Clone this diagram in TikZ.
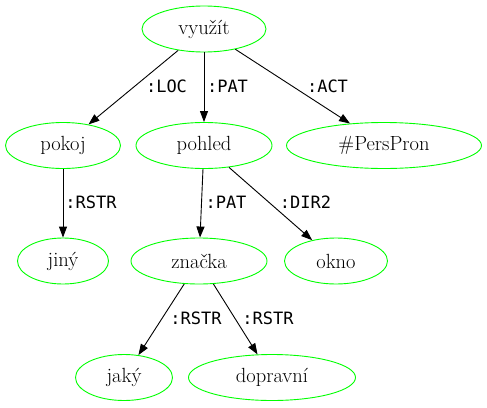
\documentclass[tikz,border=0pt]{standalone}
\usepackage{fontspec}
\newfontfamily\labfont{DejaVu Sans Mono}
\usetikzlibrary{shapes.geometric,arrows.meta}
\definecolor{nodegreen}{RGB}{0,255,0}
\tikzset{
  tnode/.style={ellipse, draw=nodegreen, line width=0.9pt, inner sep=0pt,
    minimum height=46pt, font=\fontsize{20.5}{24}\selectfont},
  edge/.style={draw=black, line width=0.9pt, -{Triangle[length=11pt,width=8pt]}},
  lab/.style={font=\labfont\fontsize{17}{20}\selectfont, inner sep=0pt}
}
\begin{document}
\begin{tikzpicture}[x=1pt,y=-1pt]
\useasboundingbox (0,0) rectangle (487,407);
\node[tnode, minimum width=124pt] (vyuzit) at (204,29) {využít};
\node[tnode, minimum width=115pt] (pokoj) at (63,145.5) {pokoj};
\node[tnode, minimum width=136pt] (pohled) at (204,145.5) {pohled};
\node[tnode, minimum width=195pt] (perspron) at (384,145.5) {\#PersPron};
\node[tnode, minimum width=91pt] (jiny) at (63,261) {jiný};
\node[tnode, minimum width=136pt] (znacka) at (199,261) {značka};
\node[tnode, minimum width=103pt] (okno) at (336,261) {okno};
\node[tnode, minimum width=97pt] (jaky) at (124,377.5) {jaký};
\node[tnode, minimum width=167pt] (dopravni) at (272,377.5) {dopravní};

\draw[edge] (vyuzit) -- (pokoj);
\draw[edge] (vyuzit) -- (pohled);
\draw[edge] (vyuzit) -- (perspron);
\draw[edge] (pokoj) -- (jiny);
\draw[edge] (pohled) -- (znacka);
\draw[edge] (pohled) -- (okno);
\draw[edge] (znacka) -- (jaky);
\draw[edge] (znacka) -- (dopravni);

\node[lab] (l1) at (166.5,86) {:LOC};
\node[lab] (l2) at (227.5,86) {:PAT};
\node[lab] (l3) at (327.5,86) {:ACT};
\node[lab] (l4) at (91,202) {:RSTR};
\node[lab] (l5) at (226,202) {:PAT};
\node[lab] (l6) at (305.5,202) {:DIR2};
\node[lab] (l7) at (196,318) {:RSTR};
\node[lab] (l8) at (268,318) {:RSTR};
\end{tikzpicture}
\end{document}
